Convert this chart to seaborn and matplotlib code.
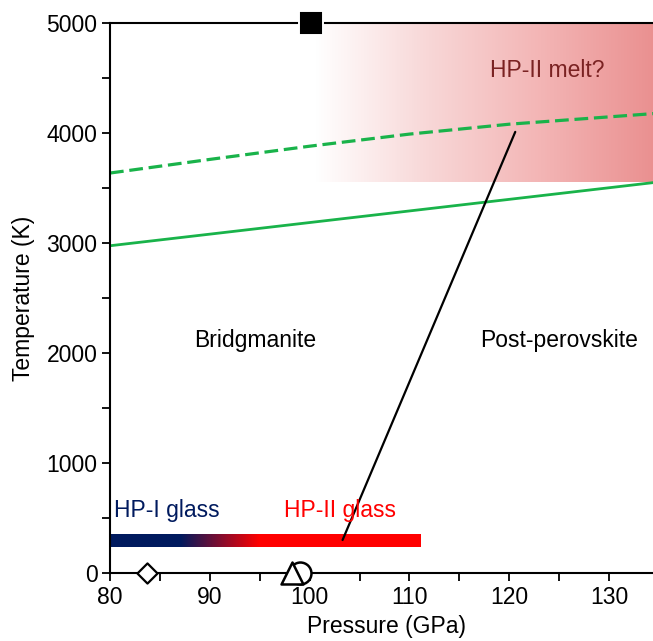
import matplotlib
matplotlib.use("Agg")
import matplotlib.pyplot as plt
import seaborn as sns
import numpy as np
import pandas as pd
from matplotlib.colors import LinearSegmentedColormap

sns.set_theme(style="ticks")
plt.rcParams['font.family'] = ['Liberation Sans', 'DejaVu Sans']

# Datos
p_solid = [80, 135]
t_solid = [2975, 3555]
p_dash = [80, 90, 100, 110, 120, 135]
t_dash = [3636, 3760, 3880, 3990, 4080, 4180]
p_black = [103.3, 120.6]
t_black = [300, 4010]
p_square = [100.1]
t_square = [5000]
p_diamond = [83.75]
p_triangle = [98.2]
p_circle = [99.05]
glass_range = [80, 111.1]
glass_temp = [240, 355]
melt_range = [100.5, 134.5]
melt_temp = [3550, 5000]

FS = 16.5

fig = plt.figure(figsize=(6.53, 6.41), dpi=100)
ax = fig.add_axes([110/653, 68/641, 543/653, 550/641])

# zona rosa "HP-II melt?"
pink = LinearSegmentedColormap.from_list("pink", ["#ffffff", "#f8d7d7", "#f3b5b5", "#ea9090"])
ax.imshow(np.linspace(0, 1, 256).reshape(1, -1), cmap=pink, aspect="auto",
          extent=[melt_range[0], melt_range[1], melt_temp[0], melt_temp[1]], zorder=0)

# barra de vidrio HP-I -> HP-II
glass = LinearSegmentedColormap.from_list(
    "glass", [(0, "#001a5e"), (0.225, "#001a5e"), (0.48, "#ff0000"), (1, "#ff0000")])
ax.imshow(np.linspace(0, 1, 512).reshape(1, -1), cmap=glass, aspect="auto",
          extent=[glass_range[0], glass_range[1], glass_temp[0], glass_temp[1]], zorder=1)

sns.lineplot(x=p_solid, y=t_solid, color="#19b34a", lw=2, ax=ax, zorder=2)
df_dash = pd.DataFrame({"p": p_dash, "t": t_dash})
sns.lineplot(data=df_dash, x="p", y="t", color="#19b34a", lw=2.3, ax=ax, zorder=2)
ax.lines[-1].set_dashes([4.3, 1.8])
sns.lineplot(x=p_black, y=t_black, color="black", lw=1.6, ax=ax, zorder=3)

sns.scatterplot(x=p_square, y=t_square, marker="s", s=300, color="black", ax=ax, zorder=5, clip_on=False)
sns.scatterplot(x=p_diamond, y=[0], marker="D", s=105, facecolor="white", edgecolor="black",
                linewidth=1.6, ax=ax, zorder=5, clip_on=False)
sns.scatterplot(x=p_circle, y=[0], marker="o", s=250, facecolor="white", edgecolor="black",
                linewidth=1.8, ax=ax, zorder=5, clip_on=False)
sns.scatterplot(x=p_triangle, y=[0], marker="^", s=250, facecolor="white", edgecolor="black",
                linewidth=1.8, ax=ax, zorder=6, clip_on=False)

ax.text(123.8, 4565, "HP-II melt?", color="#7a2222", fontsize=FS, ha="center", va="center")
ax.text(94.5, 2110, "Bridgmanite", color="black", fontsize=FS, ha="center", va="center")
ax.text(125.0, 2110, "Post-perovskite", color="black", fontsize=FS, ha="center", va="center")
ax.text(80.4, 565, "HP-I glass", color="#001a5e", fontsize=FS, ha="left", va="center")
ax.text(103.0, 565, "HP-II glass", color="#ff0000", fontsize=FS, ha="center", va="center")

ax.set_xlim(80, 134.4)
ax.set_ylim(0, 5000)
ax.set_xticks([80, 90, 100, 110, 120, 130])
ax.set_xticks([85, 95, 105, 115, 125], minor=True)
ax.set_yticks([0, 1000, 2000, 3000, 4000, 5000])
ax.set_yticks([500, 1500, 2500, 3500, 4500], minor=True)
ax.tick_params(which="both", direction="out", length=6, width=1.3, labelsize=FS, colors="black", pad=3)
ax.set_xlabel("Pressure (GPa)", fontsize=FS, color="black")
ax.xaxis.set_label_coords(0.51, -0.077)
ax.set_ylabel("Temperature (K)", fontsize=FS, labelpad=8, color="black")
ax.spines["right"].set_visible(False)
for s in ["left", "top", "bottom"]:
    ax.spines[s].set_linewidth(1.5)
    ax.spines[s].set_color("black")

fig.savefig("out.png", dpi=100)
